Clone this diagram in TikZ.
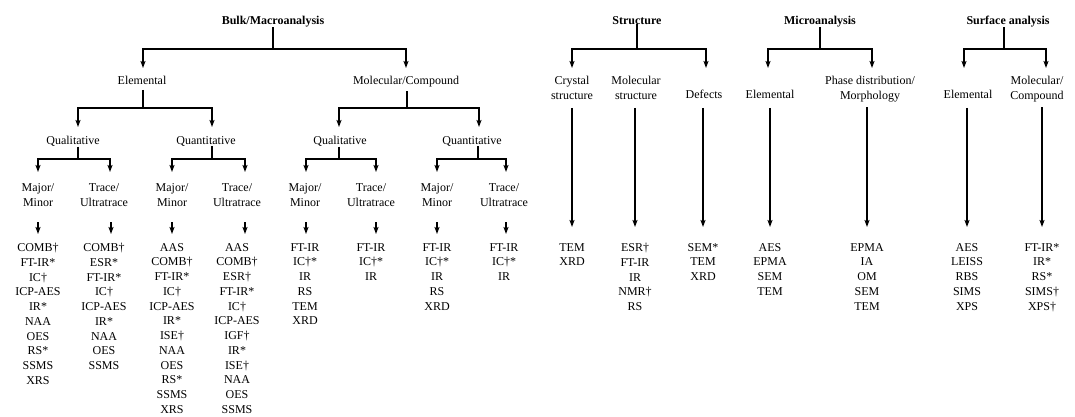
\documentclass[tikz,border=0pt]{standalone}
\usepackage{fontspec}
\setmainfont{Liberation Serif}
\usetikzlibrary{arrows.meta}
\begin{document}
\tikzset{
 ttl/.style={font=\fontsize{12}{14}\selectfont\bfseries, anchor=north, inner sep=0pt},
 lab/.style={font=\fontsize{12}{15}\selectfont, align=center, anchor=north, inner sep=0pt},
 lst/.style={font=\fontsize{12}{14.75}\selectfont, align=center, anchor=north, inner sep=0pt},
 ln/.style={line width=1.4pt},
 arr/.style={line width=1.4pt, -{Stealth[length=7pt,width=5pt,inset=1.5pt]}},
}
\begin{tikzpicture}[x=1pt,y=-1pt]
\useasboundingbox (0,0) rectangle (1075,416);

% ---------------- Bulk/Macroanalysis ----------------
\node[ttl] (bulk) at (273,16) {Bulk/Macroanalysis};
\node[lab] (el) at (142,76) {Elemental};
\node[lab] (mol) at (406,76) {Molecular/Compound};
\coordinate (bulkB) at (273,49);
\draw[ln] (bulk.south -| bulkB) -- (bulkB);
\draw[arr] (bulkB) -| ([xshift=1pt,yshift=8pt]el.north);
\draw[arr] (bulkB) -| ([yshift=8pt]mol.north);

\node[lab] (elql) at (73,136) {Qualitative};
\node[lab] (elqn) at (206,136) {Quantitative};
\node[lab] (molql) at (340,136) {Qualitative};
\node[lab] (molqn) at (472,136) {Quantitative};

\coordinate (elB) at (143,108);
\draw[ln, shorten <=5pt] (el.south -| elB) -- (elB);
\draw[arr] (elB) -| ([xshift=5pt,yshift=9pt]elql.north);
\draw[arr] (elB) -| ([xshift=6pt,yshift=9pt]elqn.north);

\coordinate (molB) at (407,108);
\draw[ln, shorten <=4pt] (mol.south -| molB) -- (molB);
\draw[arr] (molB) -| ([xshift=-1pt,yshift=9pt]molql.north);
\draw[arr] (molB) -| ([xshift=7pt,yshift=9pt]molqn.north);

% level 4 labels
\node[lab] (e1m) at (38,183) {Major/\\Minor};
\node[lab] (e1t) at (104,183) {Trace/\\Ultratrace};
\node[lab] (e2m) at (172,183) {Major/\\Minor};
\node[lab] (e2t) at (237,183) {Trace/\\Ultratrace};
\node[lab] (m1m) at (305,183) {Major/\\Minor};
\node[lab] (m1t) at (371,183) {Trace/\\Ultratrace};
\node[lab] (m2m) at (437,183) {Major/\\Minor};
\node[lab] (m2t) at (504,183) {Trace/\\Ultratrace};

\coordinate (elqlB) at (78,159);
\draw[ln] (elql.south -| elqlB) -- (elqlB);
\draw[arr] (elqlB) -| ([yshift=11pt]e1m.north);
\draw[arr] (elqlB) -| ([xshift=6pt,yshift=11pt]e1t.north);

\coordinate (elqnB) at (212,159);
\draw[ln] (elqn.south -| elqnB) -- (elqnB);
\draw[arr] (elqnB) -| ([yshift=11pt]e2m.north);
\draw[arr] (elqnB) -| ([xshift=8pt,yshift=11pt]e2t.north);

\coordinate (molqlB) at (339,159);
\draw[ln] (molql.south -| molqlB) -- (molqlB);
\draw[arr] (molqlB) -| ([xshift=1pt,yshift=11pt]m1m.north);
\draw[arr] (molqlB) -| ([xshift=5pt,yshift=11pt]m1t.north);

\coordinate (molqnB) at (478,159);
\draw[ln] (molqn.south -| molqnB) -- (molqnB);
\draw[arr] (molqnB) -| ([yshift=11pt]m2m.north);
\draw[arr] (molqnB) -| ([xshift=2pt,yshift=11pt]m2t.north);

% lists
\node[lst] (l1) at (38,243) {COMB†\\FT-IR*\\IC†\\ICP-AES\\IR*\\NAA\\OES\\RS*\\SSMS\\XRS};
\node[lst] (l2) at (104,243) {COMB†\\ESR*\\FT-IR*\\IC†\\ICP-AES\\IR*\\NAA\\OES\\SSMS};
\node[lst] (l3) at (172,243) {AAS\\COMB†\\FT-IR*\\IC†\\ICP-AES\\IR*\\ISE†\\NAA\\OES\\RS*\\SSMS\\XRS};
\node[lst] (l4) at (237,243) {AAS\\COMB†\\ESR†\\FT-IR*\\IC†\\ICP-AES\\IGF†\\IR*\\ISE†\\NAA\\OES\\SSMS};
\node[lst] (l5) at (305,243) {FT-IR\\IC†*\\IR\\RS\\TEM\\XRD};
\node[lst] (l6) at (371,243) {FT-IR\\IC†*\\IR};
\node[lst] (l7) at (437,243) {FT-IR\\IC†*\\IR\\RS\\XRD};
\node[lst] (l8) at (504,243) {FT-IR\\IC†*\\IR};

\draw[arr, shorten <=16pt] (e1m.south) -- ([yshift=9pt]l1.north);
\draw[arr, shorten <=16pt] ([xshift=7pt]e1t.south) -- ([xshift=7pt,yshift=9pt]l2.north);
\draw[arr, shorten <=16pt] (e2m.south) -- ([yshift=9pt]l3.north);
\draw[arr, shorten <=16pt] ([xshift=8pt]e2t.south) -- ([xshift=8pt,yshift=9pt]l4.north);
\draw[arr, shorten <=16pt] ([xshift=1pt]m1m.south) -- ([xshift=1pt,yshift=9pt]l5.north);
\draw[arr, shorten <=16pt] ([xshift=5pt]m1t.south) -- ([xshift=5pt,yshift=9pt]l6.north);
\draw[arr, shorten <=16pt] (m2m.south) -- ([yshift=9pt]l7.north);
\draw[arr, shorten <=16pt] ([xshift=2pt]m2t.south) -- ([xshift=2pt,yshift=9pt]l8.north);

% ---------------- Structure ----------------
\node[ttl] (str) at (637,16) {Structure};
\node[lab] (cs) at (572,76) {Crystal\\structure};
\node[lab] (ms) at (636,76) {Molecular\\structure};
\node[lab] (df) at (704,90) {Defects};
\coordinate (strB) at (637,49);
\draw[ln] (str.south -| strB) -- (strB);
\draw[arr] (strB) -| ([yshift=8pt]cs.north);
\draw[arr] (strB) -| ([xshift=2pt,yshift=22pt]df.north);

\node[lst] (csl) at (572,243) {TEM\\XRD};
\node[lst] (msl) at (635,243) {ESR†\\FT-IR\\IR\\NMR†\\RS};
\node[lst] (dfl) at (703,243) {SEM*\\TEM\\XRD};
\draw[arr, shorten <=8pt] (cs.south -| csl.north) -- ([yshift=16pt]csl.north);
\draw[arr, shorten <=8pt] (ms.south -| msl.north) -- ([yshift=16pt]msl.north);
\draw[arr, shorten <=9pt] (df.south -| dfl.north) -- ([yshift=16pt]dfl.north);

% ---------------- Microanalysis ----------------
\node[ttl] (mic) at (820,16) {Microanalysis};
\node[lab] (mel) at (770,90) {Elemental};
\node[lab] (ph) at (870,76) {Phase distribution/\\Morphology};
\coordinate (micB) at (820,49);
\draw[ln] (mic.south -| micB) -- (micB);
\draw[arr] (micB) -| ([xshift=-2pt,yshift=22pt]mel.north);
\draw[arr] (micB) -| ([xshift=2pt,yshift=8pt]ph.north);

\node[lst] (mell) at (770,243) {AES\\EPMA\\SEM\\TEM};
\node[lst] (phl) at (867,243) {EPMA\\IA\\OM\\SEM\\TEM};
\draw[arr, shorten <=9pt] (mel.south -| mell.north) -- ([yshift=16pt]mell.north);
\draw[arr, shorten <=5pt] (ph.south -| phl.north) -- ([yshift=16pt]phl.north);

% ---------------- Surface analysis ----------------
\node[ttl] (sur) at (1008,16) {Surface analysis};
\node[lab] (sel) at (968,90) {Elemental};
\node[lab] (smol) at (1037,76) {Molecular/\\Compound};
\coordinate (surB) at (1004,49);
\draw[ln] (sur.south -| surB) -- (surB);
\draw[arr] (surB) -| ([xshift=-4pt,yshift=22pt]sel.north);
\draw[arr] (surB) -| ([xshift=9pt,yshift=8pt]smol.north);

\node[lst] (sell) at (967,243) {AES\\LEISS\\RBS\\SIMS\\XPS};
\node[lst] (smoll) at (1042,243) {FT-IR*\\IR*\\RS*\\SIMS†\\XPS†};
\draw[arr, shorten <=9pt] (sel.south -| sell.north) -- ([yshift=16pt]sell.north);
\draw[arr, shorten <=5pt] (smol.south -| smoll.north) -- ([yshift=16pt]smoll.north);
\end{tikzpicture}
\end{document}
